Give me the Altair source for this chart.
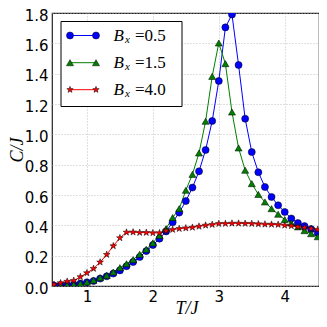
import altair as alt
import pandas as pd

T = [round(0.5 + 0.1 * i, 1) for i in range(41)]

c_b05 = [0.003, 0.005, 0.007, 0.010, 0.016, 0.024, 0.033, 0.049, 0.064, 0.082,
         0.103, 0.130, 0.158, 0.191, 0.230, 0.270, 0.312, 0.360, 0.420, 0.484,
         0.560, 0.649, 0.756, 0.897, 1.088, 1.352, 1.705, 1.790, 1.457, 1.103,
         0.883, 0.750, 0.653, 0.587, 0.532, 0.488, 0.445, 0.415, 0.395, 0.375,
         0.350]
c_b15 = [0.002, 0.003, 0.006, 0.010, 0.017, 0.026, 0.038, 0.055, 0.070, 0.092,
         0.121, 0.147, 0.174, 0.209, 0.242, 0.284, 0.334, 0.378, 0.451, 0.510,
         0.631, 0.736, 0.877, 1.086, 1.382, 1.602, 1.466, 1.147, 0.910, 0.763,
         0.675, 0.604, 0.554, 0.510, 0.473, 0.438, 0.415, 0.390, 0.365, 0.345,
         0.325]
c_b40 = [0.010, 0.020, 0.030, 0.036, 0.060, 0.086, 0.115, 0.157, 0.207, 0.264,
         0.317, 0.354, 0.355, 0.352, 0.352, 0.350, 0.350, 0.363, 0.372, 0.378,
         0.382, 0.386, 0.393, 0.400, 0.405, 0.411, 0.411, 0.413, 0.413, 0.412,
         0.411, 0.409, 0.407, 0.406, 0.405, 0.400, 0.396, 0.390, 0.385, 0.378,
         0.372]

series_names = ["0.5", "1.5", "4.0"]
series_values = [c_b05, c_b15, c_b40]
colors = ["#0000ff", "#008000", "#ff0000"]
star = "M0,-1L0.235,-0.324L0.951,-0.309L0.38,0.124L0.588,0.809L0,0.4L-0.588,0.809L-0.38,0.124L-0.951,-0.309L-0.235,-0.324Z"
shapes = ["circle", "triangle-up", star]
sizes = [50, 50, 45]

x_ticks = [1, 2, 3, 4]
y_ticks = [0.0, 0.2, 0.4, 0.6, 0.8, 1.0, 1.2, 1.4, 1.6, 1.8]

rows = []
for name, vals in zip(series_names, series_values):
    for t, c in zip(T, vals):
        rows.append({"T": t, "C": c, "Bx": name})
df = pd.DataFrame(rows)

W, H = 267, 273
xs = alt.Scale(domain=[0.47, 4.52], nice=False, zero=False)
ys = alt.Scale(domain=[0.0, 1.8], nice=False, zero=False)

x_axis = alt.Axis(values=x_ticks, title="T/J", format="d", labelOverlap=False,
                  titleX=W / 2 + 1, titleY=27, titleBaseline="alphabetic",
                  titleAlign="center")
y_axis = alt.Axis(values=y_ticks, title="C/J", format=".1f", labelOverlap=False,
                  labelFlush=False, tickCount=10, labelOffset=2,
                  titleX=-30, titleY=H / 2, titleAngle=-90,
                  titleBaseline="alphabetic", titleAlign="center")
col_scale = alt.Scale(domain=series_names, range=colors)

base = alt.Chart(df)
lines = base.mark_line(strokeWidth=1, clip=True).encode(
    x=alt.X("T:Q", scale=xs, axis=x_axis),
    y=alt.Y("C:Q", scale=ys, axis=y_axis),
    color=alt.Color("Bx:N", scale=col_scale, legend=None),
    order="T:Q")
pts = base.mark_point(filled=True, stroke="black", strokeWidth=0.5, opacity=1, clip=True).encode(
    x=alt.X("T:Q", scale=xs, axis=x_axis),
    y=alt.Y("C:Q", scale=ys, axis=y_axis),
    fill=alt.Fill("Bx:N", scale=col_scale, legend=None),
    shape=alt.Shape("Bx:N", scale=alt.Scale(domain=series_names, range=shapes), legend=None),
    size=alt.Size("Bx:N", scale=alt.Scale(domain=series_names, range=sizes), legend=None))
layers = [lines, pts]

# legend
one = pd.DataFrame({"a": [0]})
leg_box = alt.Chart(one).mark_rect(fill="white", stroke="black", strokeWidth=1).encode(
    x=alt.value(9), x2=alt.value(130), y=alt.value(8.5), y2=alt.value(93.5))
layers.append(leg_box)
leg_y = [22.5, 49.7, 76.7]
for name, col, shp, sz, ly in zip(series_names, colors, shapes, sizes, leg_y):
    layers.append(alt.Chart(one).mark_rule(color=col, strokeWidth=1).encode(
        x=alt.value(18), x2=alt.value(44), y=alt.value(ly)))
    for lx in (18, 44):
        layers.append(alt.Chart(one).mark_point(shape=shp, size=sz, filled=True, fill=col,
                                                stroke="black", strokeWidth=0.5, opacity=1).encode(
            x=alt.value(lx), y=alt.value(ly)))
    layers.append(alt.Chart(one).mark_text(text="B", font="Liberation Serif", fontStyle="italic",
                                           fontSize=17, align="left", baseline="middle").encode(
        x=alt.value(61.5), y=alt.value(ly)))
    layers.append(alt.Chart(one).mark_text(text="x", font="Liberation Serif", fontStyle="italic",
                                           fontSize=11, align="left", baseline="middle").encode(
        x=alt.value(73), y=alt.value(ly + 4)))
    layers.append(alt.Chart(one).mark_text(text="=" + name, font="Liberation Serif",
                                           fontSize=17, align="left", baseline="middle").encode(
        x=alt.value(83), y=alt.value(ly)))

chart = alt.layer(*layers).properties(
    width=W, height=H,
    autosize=alt.AutoSizeParams(type="none"),
    padding={"left": 44, "top": 5, "right": 0, "bottom": 31},
).configure_view(stroke="#222222", strokeWidth=1.2).configure_axis(
    grid=True, gridColor="#b0b0b0", gridDash=[1, 2], gridWidth=0.8,
    domain=False, ticks=False, labelOverlap=False,
    labelFont="DejaVu Sans", labelFontSize=15, labelColor="black",
    titleFont="Liberation Serif", titleFontStyle="italic", titleFontWeight="normal",
    titleFontSize=18, titleColor="black",
).configure_axisX(labelPadding=3).configure_axisY(labelPadding=4)

chart.save("out.html", embed_options={"renderer": "svg", "actions": False})
